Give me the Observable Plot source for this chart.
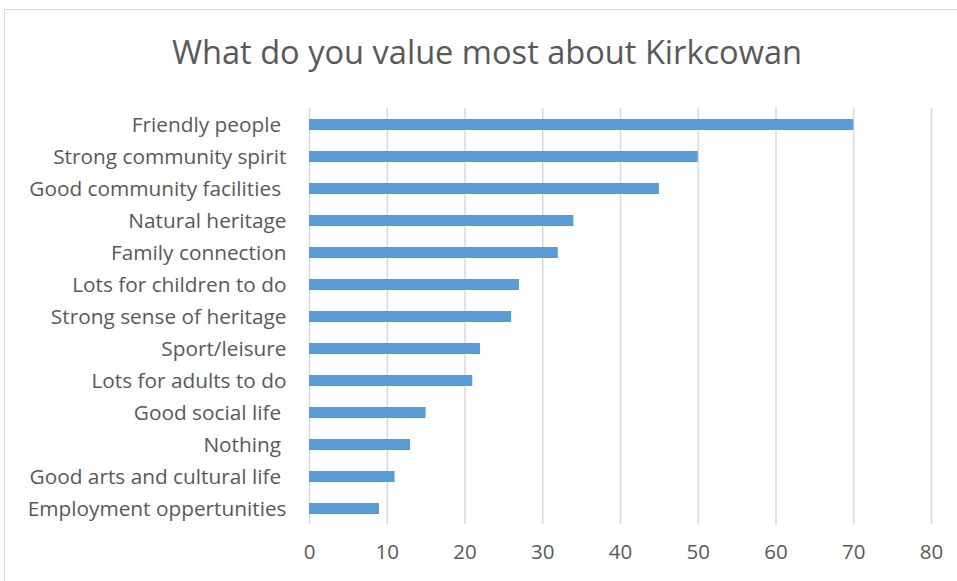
<!DOCTYPE html>
<html>
<head>
<meta charset="utf-8">
<script src="https://cdn.jsdelivr.net/npm/d3@7"></script>
<script src="https://cdn.jsdelivr.net/npm/@observablehq/plot@0.6"></script>
<style>
  body { margin: 0; background: #fff; }
  #wrap { position: relative; width: 957px; height: 581px; overflow: hidden; font-family: "Open Sans", Lato, sans-serif; }
  #frame { position: absolute; left: 4px; top: 9px; width: 1000px; height: 700px; border: 1px solid #d9d9d9; box-sizing: border-box; }
  #title { position: absolute; left: 0; top: 34px; width: 974px; text-align: center; font-size: 32.6px; color: #595959; line-height: 1.1; }
  #chart { position: absolute; left: 0; top: 0; }
  #chart svg text { white-space: pre; }
</style>
</head>
<body>
<div id="wrap">
  <div id="frame"></div>
  <div id="chart"></div>
  <div id="title">What do you value most about Kirkcowan</div>
</div>
<script>
const categories = [
  "Friendly people ",
  "Strong community spirit",
  "Good community facilities ",
  "Natural heritage",
  "Family connection",
  "Lots for children to do",
  "Strong sense of heritage",
  "Sport/leisure",
  "Lots for adults to do",
  "Good social life ",
  "Nothing ",
  "Good arts and cultural life ",
  "Employment oppertunities"
];
const values = [70, 50, 45, 34, 32, 27, 26, 22, 21, 15, 13, 11, 9];
const xTicks = [0, 10, 20, 30, 40, 50, 60, 70, 80];

const data = categories.map((c, i) => ({category: c, value: values[i]}));

const plot = Plot.plot({
  width: 957,
  height: 581,
  marginLeft: 309,
  marginRight: 26,
  marginTop: 108,
  marginBottom: 57,
  style: {fontFamily: "'Open Sans', Lato, sans-serif", background: "transparent", overflow: "visible"},
  x: {domain: [0, 80], ticks: xTicks, label: null},
  y: {domain: categories, label: null, paddingInner: 0.66, paddingOuter: 0.33},
  marks: [
    Plot.gridX(xTicks, {stroke: "#d9d9d9", strokeOpacity: 1, strokeWidth: 1.5}),
    Plot.barX(data, {x: "value", y: "category", fill: "#5b9bd5"}),
    Plot.axisX({ticks: xTicks, tickSize: 0, tickPadding: 20, fontSize: 20.5, color: "#595959", label: null}),
    Plot.axisY({tickSize: 0, tickPadding: 23, fontSize: 20.8, color: "#595959", label: null})
  ]
});
document.getElementById("chart").appendChild(plot);
</script>
</body>
</html>
